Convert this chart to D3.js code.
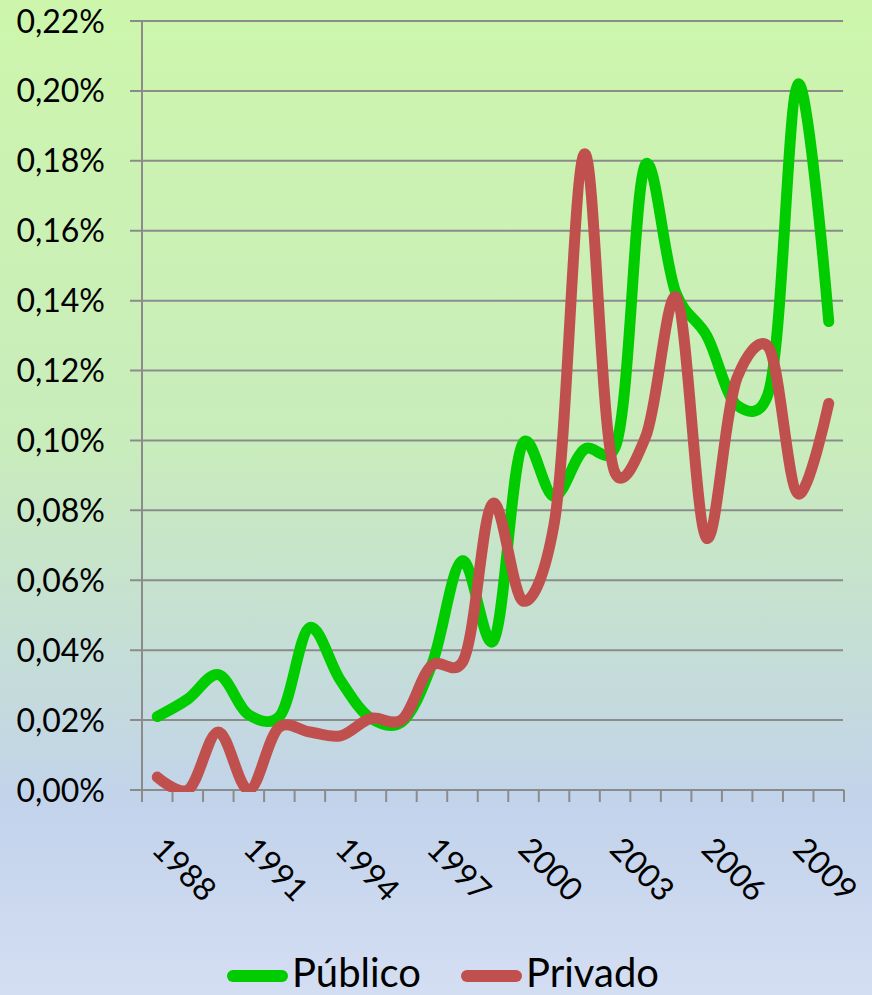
<!DOCTYPE html>
<html>
<head>
<meta charset="utf-8">
<script src="https://cdn.jsdelivr.net/npm/d3@7"></script>
<style>
  html, body { margin: 0; padding: 0; background: #ffffff; }
  svg { display: block; }
  text { font-family: Lato, "Liberation Sans", sans-serif; fill: #000; }
</style>
</head>
<body>
<svg id="chart" width="872" height="995"></svg>
<script>
// categories (one per year) and the labels that are shown on the axis
var years = ["1988", "1989", "1990", "1991", "1992", "1993", "1994", "1995", "1996", "1997", "1998", "1999",
             "2000", "2001", "2002", "2003", "2004", "2005", "2006", "2007", "2008", "2009", "2010"];
var yearLabels = ["1988", "1991", "1994", "1997", "2000", "2003", "2006", "2009"];

// values in percent
var publico = [0.021, 0.026, 0.033, 0.0215, 0.021, 0.0465, 0.0314, 0.0205, 0.0194, 0.036, 0.0656, 0.0425,
               0.0995, 0.084, 0.0975, 0.098, 0.179, 0.142, 0.130, 0.110, 0.113, 0.202, 0.134];
var privado = [0.0037, 0.000, 0.0166, 0.000, 0.018, 0.0166, 0.0155, 0.0205, 0.020, 0.0357, 0.0366, 0.082,
               0.054, 0.076, 0.182, 0.0907, 0.101, 0.141, 0.072, 0.118, 0.127, 0.0847, 0.1106];

var yTicks = [0, 0.02, 0.04, 0.06, 0.08, 0.10, 0.12, 0.14, 0.16, 0.18, 0.20, 0.22];

var series = [
    {name: "Público", values: publico, color: "#00cc00"},
    {name: "Privado", values: privado, color: "#c0504d"}
];

var svg = d3.select("#chart");
var W = 872, H = 995;
var plotL = 142, plotR = 844, plotT = 21, plotB = 790;

// background gradient (green -> blue)
var defs = svg.append("defs");
var grad = defs.append("linearGradient").attr("id", "bg")
    .attr("x1", 0).attr("y1", 0).attr("x2", 0).attr("y2", 1);
grad.append("stop").attr("offset", "0%").attr("stop-color", "#cdf6ac");
grad.append("stop").attr("offset", "45%").attr("stop-color", "#c9ecbc");
grad.append("stop").attr("offset", "81%").attr("stop-color", "#c2d3eb");
grad.append("stop").attr("offset", "100%").attr("stop-color", "#d4def3");
svg.append("rect").attr("width", W).attr("height", H).attr("fill", "url(#bg)");

defs.append("clipPath").attr("id", "plotClip")
    .append("rect").attr("x", plotL - 20).attr("y", 0).attr("width", plotR - plotL + 40).attr("height", plotB + 2);

var x = d3.scaleBand().domain(years).range([plotL, plotR]);
var y = d3.scaleLinear().domain([0, 0.22]).range([plotB, plotT]);
var cx = function (d) { return x(d) + x.bandwidth() / 2; };

// horizontal gridlines (they also form the y tick marks)
svg.append("g").selectAll("line").data(yTicks).enter().append("line")
    .attr("x1", plotL - 12).attr("x2", plotR - 1)
    .attr("y1", function (d) { return y(d); })
    .attr("y2", function (d) { return y(d); })
    .attr("stroke", "#8b8b8b").attr("stroke-width", 2);

// y axis line
svg.append("line").attr("x1", plotL).attr("x2", plotL).attr("y1", plotT).attr("y2", plotB)
    .attr("stroke", "#8b8b8b").attr("stroke-width", 2);

// y labels
svg.append("g").selectAll("text").data(yTicks).enter().append("text")
    .attr("x", 105).attr("y", function (d) { return y(d) + 11.5; })
    .attr("text-anchor", "end").attr("font-size", 32)
    .text(function (d) { return d.toFixed(2).replace(".", ",") + "%"; });

// x axis line and ticks on the category boundaries
svg.append("line").attr("x1", plotL).attr("x2", plotR).attr("y1", plotB).attr("y2", plotB)
    .attr("stroke", "#8b8b8b").attr("stroke-width", 2);
var bounds = years.map(function (d) { return x(d); }).concat([plotR]);
svg.append("g").selectAll("line").data(bounds).enter().append("line")
    .attr("x1", function (d) { return d; }).attr("x2", function (d) { return d; })
    .attr("y1", plotB).attr("y2", plotB + 12)
    .attr("stroke", "#8b8b8b").attr("stroke-width", 2);

// x labels, rotated
svg.append("g").selectAll("text").data(yearLabels).enter().append("text")
    .attr("transform", function (d) { return "translate(" + (cx(d) - 7) + ",851) rotate(45)"; })
    .attr("font-size", 32)
    .text(function (d) { return d; });

// smoothed lines
var line = d3.line()
    .x(function (d, i) { return cx(years[i]); })
    .y(function (d) { return y(d); })
    .curve(d3.curveCatmullRom.alpha(0.25));

svg.append("g").attr("clip-path", "url(#plotClip)")
    .selectAll("path").data(series).enter().append("path")
    .attr("d", function (s) { return line(s.values); })
    .attr("fill", "none")
    .attr("stroke", function (s) { return s.color; })
    .attr("stroke-width", 11)
    .attr("stroke-linecap", "round")
    .attr("stroke-linejoin", "round");

// legend
var legendX = [233, 467];
var lg = svg.append("g").selectAll("g").data(series).enter().append("g")
    .attr("transform", function (s, i) { return "translate(" + legendX[i] + ",0)"; });
lg.append("line").attr("x1", 0).attr("x2", 49).attr("y1", 976).attr("y2", 976)
    .attr("stroke", function (s) { return s.color; })
    .attr("stroke-width", 12).attr("stroke-linecap", "round");
lg.append("text").attr("x", 59).attr("y", 987).attr("font-size", 40)
    .text(function (s) { return s.name; });
</script>
</body>
</html>
